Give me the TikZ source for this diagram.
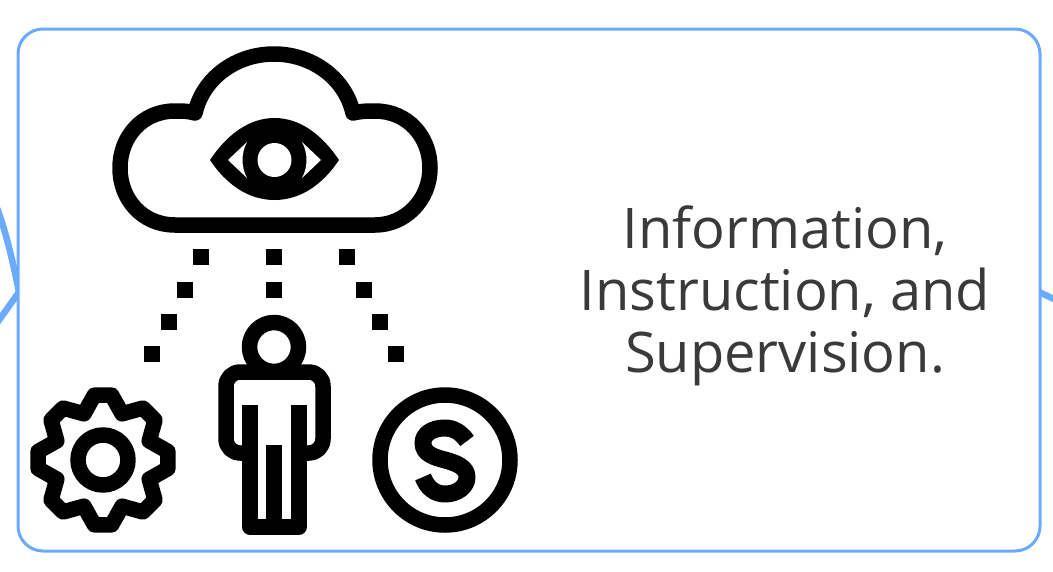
\documentclass[tikz,border=0pt]{standalone}
\usepackage{fontspec}
\setmainfont{Open Sans}
\definecolor{frameblue}{HTML}{6AABFF}
\definecolor{labeltext}{HTML}{3A3A3A}
\tikzset{
  frame/.style={draw=frameblue,line width=3pt,rounded corners=25pt,fill=white,minimum width=1022pt,minimum height=522pt,inner sep=0pt,outer sep=0pt},
  link/.style={draw=frameblue,line width=6.5pt},
  icon/.style={draw=black,line width=15.5pt,line join=round},
  dotsq/.style={fill=black,minimum size=16pt,inner sep=0pt,outer sep=0pt},
  label/.style={text=labeltext,align=center,font=\fontsize{56pt}{62pt}\selectfont}
}
\begin{document}
\begin{tikzpicture}[x=1pt,y=-1pt]
\useasboundingbox (0,0) rectangle (1053,571);
\fill[white] (0,0) rectangle (1053,571);
% connectors
\coordinate (lA) at (-3,208);
\coordinate (lB) at (-3,323);
\coordinate (lC) at (19,292);
\coordinate (rA) at (1039,292);
\coordinate (rB) at (1056,300);
\draw[link] (lA) .. controls (6,232) and (13,262) .. (lC);
\draw[link] (lB) -- (lC);
\draw[link] (rA) -- (rB);
\node[frame] (card) at (529,290) {};
% cloud
\draw[icon] (195,113) .. controls (203,78) and (236,54) .. (274,54)
  .. controls (312,54) and (345,78) .. (353,113)
  .. controls (362,111) and (368,111) .. (375,111)
  .. controls (407,111) and (430,136) .. (430,168)
  .. controls (430,200) and (405,225) .. (375,225)
  -- (175,225)
  .. controls (143,225) and (120,200) .. (120,168)
  .. controls (120,136) and (143,111) .. (175,111)
  .. controls (182,111) and (188,111) .. (195,113) -- cycle;
% eye
\fill[black,line join=round] (210,160) .. controls (226,136) and (248,118) .. (274.5,118)
  .. controls (301,118) and (323,136) .. (339,160)
  .. controls (323,184) and (301,200) .. (274.5,200)
  .. controls (248,200) and (226,184) .. (210,160) -- cycle;
\fill[white] (228,160) -- (247,142) .. controls (241,153) and (241,167) .. (247,178) -- cycle;
\fill[white] (321,160) -- (302,142) .. controls (308,153) and (308,167) .. (302,178) -- cycle;
\fill[white] (274.5,160) circle (17);
% dots
\foreach \n/\px/\py in {a/201/257,b/274/257,c/347/257,d/185/290,e/274/290,f/364/290,g/169/322,h/380/322,i/152/354,j/396/354}
  \node[dotsq] (sq\n) at (\px,\py) {};
% gear
\begin{scope}[shift={(103,460)}]
\draw[icon] (-7.5:65.5) \foreach \k in {0,...,7} { -- ({\k*45-7.5}:65.5) -- ({\k*45+7.5}:65.5) -- ({\k*45+22.5}:50) } -- cycle;
\draw[icon] (0,0) circle (25);
\end{scope}
% person
\draw[icon] (274,347) circle (24.5);
\draw[icon] (250,405) -- (250,527) -- (299,527) -- (299,405);
\draw[icon] (274,445) -- (274,527);
\draw[icon,rounded corners=14pt] (250,453) -- (226,453) -- (226,372) -- (323,372) -- (323,453) -- (299,453);
% S coin
\draw[icon] (445,460) circle (65);
\draw[icon,line width=17pt,line cap=butt] (467,441) .. controls (461,432) and (453,428) .. (445,428)
  .. controls (432,428) and (423,434) .. (423,443)
  .. controls (423,454) and (434,457) .. (445,460)
  .. controls (456,463) and (467,467) .. (467,477)
  .. controls (467,487) and (457,494) .. (445,494)
  .. controls (435,494) and (427,488) .. (423,477);
% text
\node[label] (txt) at (785,295.5) {Information,\\Instruction, and\\Supervision.};
\end{tikzpicture}
\end{document}
